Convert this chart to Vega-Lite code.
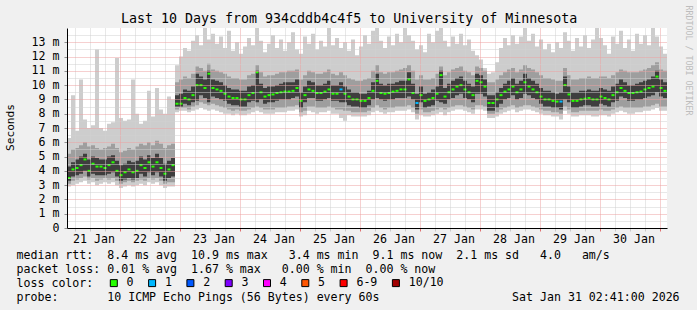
{
"$schema": "https://vega.github.io/schema/vega-lite/v6.json",
"width": 600, "height": 200,
"autosize": "none",
"padding": {"left": 67, "top": 28, "right": 30, "bottom": 82},
"background": "#f0f0f0",
"config": {"view": {"fill": "#ffffff", "stroke": null}, "font": "DejaVu Sans Mono"},
"title": {"text": "Last 10 Days from 934cddb4c4f5 to University of Minnesota", "anchor": "start", "frame": "group", "dx": 54, "dy": 24, "font": "DejaVu Sans Mono", "fontSize": 13.3, "fontWeight": "normal", "color": "#000000", "offset": 4},
"data": {"values": [
{"t":"2026-01-21T03:00:00Z","lo":2.9,"hi":6.3,"a":3.1,"b":5.2,"c":3.3,"d":4.3,"m":3.5,"l":"0"},
{"t":"2026-01-21T04:36:00Z","lo":3.0,"hi":9.3,"a":3.3,"b":5.5,"c":3.6,"d":4.6,"m":4.1,"l":"0"},
{"t":"2026-01-21T06:12:00Z","lo":3.1,"hi":6.8,"a":3.4,"b":5.6,"c":3.7,"d":4.8,"m":4.2,"l":"0"},
{"t":"2026-01-21T07:48:00Z","lo":3.2,"hi":10.4,"a":3.5,"b":5.8,"c":3.8,"d":5.0,"m":4.4,"l":"0"},
{"t":"2026-01-21T09:24:00Z","lo":3.3,"hi":7.6,"a":3.6,"b":6.0,"c":4.0,"d":5.2,"m":4.8,"l":"0"},
{"t":"2026-01-21T11:00:00Z","lo":3.1,"hi":7.0,"a":3.4,"b":5.7,"c":3.6,"d":4.8,"m":4.0,"l":"0"},
{"t":"2026-01-21T12:36:00Z","lo":3.2,"hi":7.2,"a":3.5,"b":5.8,"c":3.8,"d":5.0,"m":4.5,"l":"0"},
{"t":"2026-01-21T14:12:00Z","lo":3.0,"hi":12.5,"a":3.3,"b":5.6,"c":3.7,"d":4.9,"m":4.3,"l":"0"},
{"t":"2026-01-21T15:48:00Z","lo":3.1,"hi":7.0,"a":3.4,"b":5.5,"c":3.7,"d":4.8,"m":4.3,"l":"0"},
{"t":"2026-01-21T17:24:00Z","lo":3.2,"hi":6.8,"a":3.5,"b":5.6,"c":3.7,"d":4.8,"m":4.2,"l":"0"},
{"t":"2026-01-21T19:00:00Z","lo":3.1,"hi":7.3,"a":3.4,"b":5.7,"c":3.8,"d":5.0,"m":4.4,"l":"0"},
{"t":"2026-01-21T20:36:00Z","lo":3.2,"hi":7.4,"a":3.5,"b":5.9,"c":3.9,"d":5.1,"m":4.6,"l":"0"},
{"t":"2026-01-21T22:12:00Z","lo":3.0,"hi":11.9,"a":3.3,"b":5.6,"c":3.6,"d":4.7,"m":4.0,"l":"0"},
{"t":"2026-01-21T23:48:00Z","lo":2.8,"hi":7.7,"a":3.1,"b":5.3,"c":3.3,"d":4.4,"m":3.7,"l":"0"},
{"t":"2026-01-22T01:24:00Z","lo":2.9,"hi":7.5,"a":3.2,"b":5.4,"c":3.4,"d":4.5,"m":3.9,"l":"0"},
{"t":"2026-01-22T03:00:00Z","lo":3.0,"hi":7.6,"a":3.3,"b":5.6,"c":3.5,"d":4.7,"m":4.1,"l":"0"},
{"t":"2026-01-22T04:36:00Z","lo":2.9,"hi":10.4,"a":3.2,"b":5.5,"c":3.4,"d":4.6,"m":3.9,"l":"0"},
{"t":"2026-01-22T06:12:00Z","lo":3.0,"hi":8.0,"a":3.3,"b":5.7,"c":3.5,"d":4.7,"m":4.0,"l":"0"},
{"t":"2026-01-22T07:48:00Z","lo":3.1,"hi":7.3,"a":3.4,"b":5.9,"c":3.8,"d":5.0,"m":4.4,"l":"0"},
{"t":"2026-01-22T09:24:00Z","lo":3.0,"hi":7.5,"a":3.3,"b":5.8,"c":3.6,"d":4.8,"m":4.2,"l":"0"},
{"t":"2026-01-22T11:00:00Z","lo":3.2,"hi":9.6,"a":3.5,"b":6.0,"c":3.9,"d":5.1,"m":4.6,"l":"0"},
{"t":"2026-01-22T12:36:00Z","lo":3.1,"hi":7.8,"a":3.4,"b":5.8,"c":3.7,"d":4.9,"m":4.3,"l":"0"},
{"t":"2026-01-22T14:12:00Z","lo":3.2,"hi":9.8,"a":3.5,"b":6.1,"c":3.9,"d":5.2,"m":4.6,"l":"0"},
{"t":"2026-01-22T15:48:00Z","lo":3.0,"hi":8.3,"a":3.3,"b":5.9,"c":3.6,"d":4.9,"m":4.2,"l":"0"},
{"t":"2026-01-22T17:24:00Z","lo":2.8,"hi":8.0,"a":3.1,"b":5.6,"c":3.3,"d":4.5,"m":3.8,"l":"0"},
{"t":"2026-01-22T19:00:00Z","lo":2.9,"hi":9.2,"a":3.2,"b":5.8,"c":3.5,"d":4.7,"m":4.1,"l":"0"},
{"t":"2026-01-22T20:36:00Z","lo":2.9,"hi":9.0,"a":3.2,"b":5.9,"c":3.6,"d":4.9,"m":4.4,"l":"0"},
{"t":"2026-01-22T22:12:00Z","lo":8.1,"hi":11.4,"a":8.3,"b":10.2,"c":8.5,"d":9.3,"m":8.7,"l":"0"},
{"t":"2026-01-22T23:48:00Z","lo":8.2,"hi":12.0,"a":8.4,"b":10.4,"c":8.5,"d":9.4,"m":8.7,"l":"0"},
{"t":"2026-01-23T01:24:00Z","lo":8.2,"hi":12.6,"a":8.4,"b":10.6,"c":8.7,"d":9.7,"m":9.1,"l":"0"},
{"t":"2026-01-23T03:00:00Z","lo":8.1,"hi":12.4,"a":8.3,"b":10.5,"c":8.6,"d":9.6,"m":9.0,"l":"0"},
{"t":"2026-01-23T04:36:00Z","lo":8.2,"hi":13.1,"a":8.5,"b":10.8,"c":8.8,"d":9.9,"m":9.3,"l":"0"},
{"t":"2026-01-23T06:12:00Z","lo":8.3,"hi":13.5,"a":8.6,"b":11.3,"c":8.9,"d":10.8,"m":10.0,"l":"0"},
{"t":"2026-01-23T07:48:00Z","lo":8.4,"hi":12.8,"a":8.8,"b":11.2,"c":9.3,"d":10.6,"m":10.0,"l":"0"},
{"t":"2026-01-23T09:24:00Z","lo":8.3,"hi":14.0,"a":8.7,"b":11.0,"c":9.1,"d":10.4,"m":9.8,"l":"0"},
{"t":"2026-01-23T11:00:00Z","lo":8.2,"hi":13.2,"a":8.6,"b":11.5,"c":8.8,"d":11.0,"m":10.8,"l":"0"},
{"t":"2026-01-23T12:36:00Z","lo":8.3,"hi":13.6,"a":8.7,"b":11.1,"c":9.2,"d":10.4,"m":9.8,"l":"0"},
{"t":"2026-01-23T14:12:00Z","lo":8.2,"hi":12.9,"a":8.6,"b":11.0,"c":9.1,"d":10.3,"m":9.7,"l":"0"},
{"t":"2026-01-23T15:48:00Z","lo":8.1,"hi":13.4,"a":8.5,"b":10.9,"c":9.0,"d":10.2,"m":9.6,"l":"0"},
{"t":"2026-01-23T17:24:00Z","lo":8.0,"hi":12.6,"a":8.4,"b":10.8,"c":8.9,"d":10.0,"m":9.4,"l":"0"},
{"t":"2026-01-23T19:00:00Z","lo":8.0,"hi":13.8,"a":8.3,"b":10.6,"c":8.7,"d":9.8,"m":9.2,"l":"0"},
{"t":"2026-01-23T20:36:00Z","lo":7.9,"hi":12.4,"a":8.2,"b":10.5,"c":8.6,"d":9.7,"m":9.1,"l":"0"},
{"t":"2026-01-23T22:12:00Z","lo":8.0,"hi":13.0,"a":8.3,"b":10.5,"c":8.6,"d":9.7,"m":9.1,"l":"0"},
{"t":"2026-01-23T23:48:00Z","lo":7.9,"hi":12.2,"a":8.2,"b":10.4,"c":8.5,"d":9.6,"m":9.0,"l":"0"},
{"t":"2026-01-24T01:24:00Z","lo":7.9,"hi":12.7,"a":8.2,"b":10.4,"c":8.5,"d":9.6,"m":9.0,"l":"0"},
{"t":"2026-01-24T03:00:00Z","lo":8.0,"hi":13.3,"a":8.3,"b":10.7,"c":8.8,"d":9.9,"m":9.3,"l":"0"},
{"t":"2026-01-24T04:36:00Z","lo":8.1,"hi":12.8,"a":8.4,"b":10.8,"c":8.9,"d":10.0,"m":9.45,"l":"0"},
{"t":"2026-01-24T06:12:00Z","lo":8.2,"hi":14.0,"a":8.5,"b":11.4,"c":8.8,"d":11.0,"m":10.9,"l":"0"},
{"t":"2026-01-24T07:48:00Z","lo":8.1,"hi":13.1,"a":8.4,"b":10.9,"c":9.0,"d":10.1,"m":9.5,"l":"0"},
{"t":"2026-01-24T09:24:00Z","lo":8.0,"hi":12.3,"a":8.3,"b":10.6,"c":8.7,"d":9.8,"m":9.2,"l":"0"},
{"t":"2026-01-24T11:00:00Z","lo":8.0,"hi":12.9,"a":8.3,"b":10.7,"c":8.8,"d":9.9,"m":9.3,"l":"0"},
{"t":"2026-01-24T12:36:00Z","lo":8.0,"hi":13.5,"a":8.3,"b":10.7,"c":8.8,"d":9.9,"m":9.35,"l":"0"},
{"t":"2026-01-24T14:12:00Z","lo":8.1,"hi":12.6,"a":8.4,"b":10.8,"c":8.9,"d":10.0,"m":9.45,"l":"0"},
{"t":"2026-01-24T15:48:00Z","lo":8.1,"hi":13.2,"a":8.4,"b":10.9,"c":9.0,"d":10.1,"m":9.5,"l":"0"},
{"t":"2026-01-24T17:24:00Z","lo":8.1,"hi":12.4,"a":8.4,"b":10.9,"c":9.0,"d":10.2,"m":9.55,"l":"0"},
{"t":"2026-01-24T19:00:00Z","lo":8.2,"hi":13.0,"a":8.5,"b":11.0,"c":9.0,"d":10.2,"m":9.55,"l":"0"},
{"t":"2026-01-24T20:36:00Z","lo":8.2,"hi":13.7,"a":8.5,"b":11.0,"c":9.1,"d":10.2,"m":9.6,"l":"0"},
{"t":"2026-01-24T22:12:00Z","lo":8.3,"hi":12.5,"a":8.6,"b":11.1,"c":9.2,"d":10.4,"m":9.8,"l":"0"},
{"t":"2026-01-24T23:48:00Z","lo":7.8,"hi":12.2,"a":8.1,"b":10.4,"c":8.4,"d":9.5,"m":8.9,"l":"0"},
{"t":"2026-01-25T01:24:00Z","lo":7.9,"hi":13.4,"a":8.2,"b":10.7,"c":8.8,"d":9.9,"m":9.3,"l":"0"},
{"t":"2026-01-25T03:00:00Z","lo":8.2,"hi":12.9,"a":8.5,"b":11.0,"c":9.1,"d":10.3,"m":9.7,"l":"0"},
{"t":"2026-01-25T04:36:00Z","lo":8.1,"hi":13.6,"a":8.5,"b":10.9,"c":9.1,"d":10.2,"m":9.6,"l":"0"},
{"t":"2026-01-25T06:12:00Z","lo":8.0,"hi":12.5,"a":8.4,"b":10.8,"c":8.9,"d":10.0,"m":9.45,"l":"0"},
{"t":"2026-01-25T07:48:00Z","lo":8.1,"hi":13.1,"a":8.4,"b":10.8,"c":8.9,"d":10.0,"m":9.45,"l":"0"},
{"t":"2026-01-25T09:24:00Z","lo":8.1,"hi":12.7,"a":8.4,"b":10.9,"c":9.0,"d":10.1,"m":9.55,"l":"0"},
{"t":"2026-01-25T11:00:00Z","lo":8.2,"hi":14.0,"a":8.5,"b":11.1,"c":9.1,"d":10.3,"m":9.7,"l":"0"},
{"t":"2026-01-25T12:36:00Z","lo":8.0,"hi":12.8,"a":8.4,"b":10.8,"c":8.9,"d":10.0,"m":9.4,"l":"0"},
{"t":"2026-01-25T14:12:00Z","lo":8.0,"hi":13.3,"a":8.3,"b":10.7,"c":8.9,"d":10.0,"m":9.4,"l":"0"},
{"t":"2026-01-25T15:48:00Z","lo":7.7,"hi":12.6,"a":8.3,"b":10.9,"c":8.8,"d":10.2,"m":9.7,"l":"1"},
{"t":"2026-01-25T17:24:00Z","lo":7.5,"hi":13.0,"a":8.2,"b":10.7,"c":8.8,"d":9.9,"m":9.4,"l":"0"},
{"t":"2026-01-25T19:00:00Z","lo":7.9,"hi":12.4,"a":8.2,"b":10.5,"c":8.6,"d":9.7,"m":9.2,"l":"0"},
{"t":"2026-01-25T20:36:00Z","lo":7.8,"hi":13.2,"a":8.1,"b":10.4,"c":8.5,"d":9.5,"m":9.0,"l":"0"},
{"t":"2026-01-25T22:12:00Z","lo":7.8,"hi":12.1,"a":8.1,"b":10.3,"c":8.5,"d":9.5,"m":9.0,"l":"0"},
{"t":"2026-01-25T23:48:00Z","lo":7.8,"hi":12.7,"a":8.1,"b":10.3,"c":8.4,"d":9.4,"m":8.9,"l":"0"},
{"t":"2026-01-26T01:24:00Z","lo":7.8,"hi":13.5,"a":8.1,"b":10.4,"c":8.4,"d":9.4,"m":8.9,"l":"0"},
{"t":"2026-01-26T03:00:00Z","lo":7.9,"hi":12.9,"a":8.2,"b":10.5,"c":8.6,"d":9.6,"m":9.1,"l":"0"},
{"t":"2026-01-26T04:36:00Z","lo":8.1,"hi":13.8,"a":8.4,"b":11.0,"c":9.0,"d":10.2,"m":9.6,"l":"0"},
{"t":"2026-01-26T06:12:00Z","lo":8.2,"hi":14.0,"a":8.6,"b":11.4,"c":9.1,"d":10.8,"m":10.3,"l":"0"},
{"t":"2026-01-26T07:48:00Z","lo":8.1,"hi":13.1,"a":8.4,"b":10.9,"c":9.0,"d":10.1,"m":9.45,"l":"0"},
{"t":"2026-01-26T09:24:00Z","lo":8.0,"hi":12.6,"a":8.3,"b":10.8,"c":8.9,"d":10.0,"m":9.4,"l":"0"},
{"t":"2026-01-26T11:00:00Z","lo":8.1,"hi":13.4,"a":8.4,"b":10.9,"c":9.0,"d":10.1,"m":9.45,"l":"0"},
{"t":"2026-01-26T12:36:00Z","lo":8.1,"hi":12.8,"a":8.4,"b":10.9,"c":9.0,"d":10.1,"m":9.55,"l":"0"},
{"t":"2026-01-26T14:12:00Z","lo":8.2,"hi":13.6,"a":8.5,"b":11.0,"c":9.1,"d":10.2,"m":9.6,"l":"0"},
{"t":"2026-01-26T15:48:00Z","lo":8.2,"hi":13.0,"a":8.5,"b":11.1,"c":9.1,"d":10.3,"m":9.7,"l":"0"},
{"t":"2026-01-26T17:24:00Z","lo":8.2,"hi":14.0,"a":8.5,"b":11.2,"c":9.1,"d":10.3,"m":9.7,"l":"0"},
{"t":"2026-01-26T19:00:00Z","lo":8.3,"hi":13.5,"a":8.6,"b":11.4,"c":9.2,"d":10.9,"m":10.4,"l":"0"},
{"t":"2026-01-26T20:36:00Z","lo":8.1,"hi":13.1,"a":8.4,"b":11.0,"c":9.0,"d":10.1,"m":9.45,"l":"0"},
{"t":"2026-01-26T22:12:00Z","lo":7.6,"hi":12.5,"a":8.0,"b":10.4,"c":8.3,"d":9.4,"m":8.75,"l":"1"},
{"t":"2026-01-26T23:48:00Z","lo":7.9,"hi":12.8,"a":8.3,"b":10.7,"c":8.8,"d":9.9,"m":9.3,"l":"0"},
{"t":"2026-01-27T01:24:00Z","lo":7.8,"hi":12.3,"a":8.1,"b":10.4,"c":8.4,"d":9.4,"m":8.9,"l":"0"},
{"t":"2026-01-27T03:00:00Z","lo":7.8,"hi":13.6,"a":8.1,"b":10.4,"c":8.5,"d":9.5,"m":9.0,"l":"0"},
{"t":"2026-01-27T04:36:00Z","lo":7.9,"hi":13.0,"a":8.2,"b":10.5,"c":8.6,"d":9.7,"m":9.1,"l":"0"},
{"t":"2026-01-27T06:12:00Z","lo":8.0,"hi":13.8,"a":8.3,"b":10.8,"c":8.9,"d":9.9,"m":9.4,"l":"0"},
{"t":"2026-01-27T07:48:00Z","lo":8.1,"hi":14.0,"a":8.4,"b":11.3,"c":8.8,"d":11.0,"m":10.7,"l":"0"},
{"t":"2026-01-27T09:24:00Z","lo":7.9,"hi":13.1,"a":8.3,"b":10.7,"c":8.7,"d":9.8,"m":9.2,"l":"0"},
{"t":"2026-01-27T11:00:00Z","lo":8.1,"hi":12.7,"a":8.4,"b":10.9,"c":9.0,"d":10.1,"m":9.5,"l":"0"},
{"t":"2026-01-27T12:36:00Z","lo":8.2,"hi":13.4,"a":8.5,"b":11.1,"c":9.1,"d":10.3,"m":9.7,"l":"0"},
{"t":"2026-01-27T14:12:00Z","lo":8.3,"hi":12.9,"a":8.6,"b":11.2,"c":9.3,"d":10.5,"m":9.9,"l":"0"},
{"t":"2026-01-27T15:48:00Z","lo":8.3,"hi":13.6,"a":8.6,"b":11.3,"c":9.4,"d":10.6,"m":10.0,"l":"0"},
{"t":"2026-01-27T17:24:00Z","lo":8.2,"hi":12.8,"a":8.5,"b":11.0,"c":9.1,"d":10.3,"m":9.7,"l":"0"},
{"t":"2026-01-27T19:00:00Z","lo":8.1,"hi":13.2,"a":8.4,"b":10.9,"c":9.0,"d":10.1,"m":9.5,"l":"0"},
{"t":"2026-01-27T20:36:00Z","lo":8.0,"hi":12.4,"a":8.3,"b":10.7,"c":8.8,"d":9.9,"m":9.3,"l":"0"},
{"t":"2026-01-27T22:12:00Z","lo":8.3,"hi":12.1,"a":8.6,"b":11.3,"c":9.4,"d":10.8,"m":10.3,"l":"0"},
{"t":"2026-01-27T23:48:00Z","lo":8.3,"hi":11.8,"a":8.6,"b":11.2,"c":9.4,"d":10.7,"m":10.2,"l":"0"},
{"t":"2026-01-28T01:24:00Z","lo":8.2,"hi":11.2,"a":8.5,"b":11.0,"c":9.2,"d":10.4,"m":9.9,"l":"0"},
{"t":"2026-01-28T03:00:00Z","lo":7.7,"hi":10.8,"a":8.0,"b":10.2,"c":8.2,"d":9.3,"m":8.75,"l":"0"},
{"t":"2026-01-28T04:36:00Z","lo":7.7,"hi":10.9,"a":8.0,"b":10.2,"c":8.2,"d":9.3,"m":8.75,"l":"0"},
{"t":"2026-01-28T06:12:00Z","lo":7.8,"hi":11.6,"a":8.1,"b":10.4,"c":8.4,"d":9.5,"m":9.0,"l":"0"},
{"t":"2026-01-28T07:48:00Z","lo":8.0,"hi":12.6,"a":8.3,"b":10.7,"c":8.7,"d":9.8,"m":9.3,"l":"0"},
{"t":"2026-01-28T09:24:00Z","lo":8.1,"hi":13.3,"a":8.4,"b":10.9,"c":9.0,"d":10.1,"m":9.55,"l":"0"},
{"t":"2026-01-28T11:00:00Z","lo":8.2,"hi":12.8,"a":8.5,"b":11.1,"c":9.1,"d":10.3,"m":9.7,"l":"0"},
{"t":"2026-01-28T12:36:00Z","lo":8.3,"hi":13.5,"a":8.6,"b":11.2,"c":9.3,"d":10.5,"m":9.9,"l":"0"},
{"t":"2026-01-28T14:12:00Z","lo":8.1,"hi":12.9,"a":8.4,"b":10.9,"c":9.0,"d":10.1,"m":9.5,"l":"0"},
{"t":"2026-01-28T15:48:00Z","lo":8.2,"hi":13.4,"a":8.5,"b":11.1,"c":9.1,"d":10.3,"m":9.7,"l":"0"},
{"t":"2026-01-28T17:24:00Z","lo":8.3,"hi":14.0,"a":8.6,"b":11.4,"c":9.4,"d":10.8,"m":10.2,"l":"0"},
{"t":"2026-01-28T19:00:00Z","lo":8.3,"hi":13.1,"a":8.6,"b":11.2,"c":9.3,"d":10.5,"m":9.9,"l":"0"},
{"t":"2026-01-28T20:36:00Z","lo":8.2,"hi":13.6,"a":8.5,"b":11.1,"c":9.1,"d":10.3,"m":9.7,"l":"0"},
{"t":"2026-01-28T22:12:00Z","lo":8.1,"hi":12.7,"a":8.4,"b":10.9,"c":9.0,"d":10.1,"m":9.5,"l":"0"},
{"t":"2026-01-28T23:48:00Z","lo":8.0,"hi":13.2,"a":8.3,"b":10.7,"c":8.7,"d":9.8,"m":9.2,"l":"0"},
{"t":"2026-01-29T01:24:00Z","lo":7.9,"hi":12.5,"a":8.2,"b":10.5,"c":8.5,"d":9.6,"m":9.0,"l":"0"},
{"t":"2026-01-29T03:00:00Z","lo":7.9,"hi":12.9,"a":8.2,"b":10.5,"c":8.5,"d":9.6,"m":9.0,"l":"0"},
{"t":"2026-01-29T04:36:00Z","lo":7.8,"hi":12.3,"a":8.1,"b":10.4,"c":8.4,"d":9.5,"m":8.9,"l":"0"},
{"t":"2026-01-29T06:12:00Z","lo":7.8,"hi":13.0,"a":8.1,"b":10.3,"c":8.4,"d":9.4,"m":8.85,"l":"0"},
{"t":"2026-01-29T07:48:00Z","lo":7.6,"hi":12.6,"a":8.0,"b":10.3,"c":8.3,"d":9.5,"m":8.85,"l":"1"},
{"t":"2026-01-29T09:24:00Z","lo":8.2,"hi":13.7,"a":8.5,"b":11.2,"c":9.0,"d":10.6,"m":10.0,"l":"0"},
{"t":"2026-01-29T11:00:00Z","lo":8.0,"hi":13.1,"a":8.3,"b":10.7,"c":8.8,"d":9.9,"m":9.35,"l":"0"},
{"t":"2026-01-29T12:36:00Z","lo":7.8,"hi":12.4,"a":8.1,"b":10.4,"c":8.4,"d":9.5,"m":8.9,"l":"0"},
{"t":"2026-01-29T14:12:00Z","lo":7.8,"hi":13.3,"a":8.1,"b":10.4,"c":8.4,"d":9.5,"m":8.9,"l":"0"},
{"t":"2026-01-29T15:48:00Z","lo":7.9,"hi":12.7,"a":8.2,"b":10.5,"c":8.5,"d":9.6,"m":9.0,"l":"0"},
{"t":"2026-01-29T17:24:00Z","lo":7.9,"hi":13.5,"a":8.2,"b":10.5,"c":8.6,"d":9.6,"m":9.05,"l":"0"},
{"t":"2026-01-29T19:00:00Z","lo":7.9,"hi":12.6,"a":8.2,"b":10.6,"c":8.6,"d":9.7,"m":9.1,"l":"0"},
{"t":"2026-01-29T20:36:00Z","lo":7.8,"hi":13.2,"a":8.2,"b":10.5,"c":8.5,"d":9.6,"m":9.0,"l":"0"},
{"t":"2026-01-29T22:12:00Z","lo":7.8,"hi":14.0,"a":8.2,"b":10.5,"c":8.5,"d":9.6,"m":9.0,"l":"0"},
{"t":"2026-01-29T23:48:00Z","lo":7.9,"hi":13.3,"a":8.3,"b":10.6,"c":8.7,"d":9.8,"m":9.2,"l":"0"},
{"t":"2026-01-30T01:24:00Z","lo":7.9,"hi":12.8,"a":8.2,"b":10.6,"c":8.6,"d":9.7,"m":9.1,"l":"0"},
{"t":"2026-01-30T03:00:00Z","lo":7.8,"hi":12.2,"a":8.2,"b":10.5,"c":8.5,"d":9.6,"m":9.0,"l":"0"},
{"t":"2026-01-30T04:36:00Z","lo":8.0,"hi":13.4,"a":8.3,"b":10.7,"c":8.8,"d":9.9,"m":9.3,"l":"0"},
{"t":"2026-01-30T06:12:00Z","lo":8.1,"hi":12.9,"a":8.4,"b":10.9,"c":8.9,"d":10.1,"m":9.5,"l":"0"},
{"t":"2026-01-30T07:48:00Z","lo":8.2,"hi":13.8,"a":8.5,"b":11.1,"c":9.2,"d":10.4,"m":9.8,"l":"0"},
{"t":"2026-01-30T09:24:00Z","lo":8.1,"hi":12.6,"a":8.4,"b":11.0,"c":9.1,"d":10.2,"m":9.6,"l":"0"},
{"t":"2026-01-30T11:00:00Z","lo":8.0,"hi":13.2,"a":8.4,"b":10.9,"c":8.9,"d":10.0,"m":9.45,"l":"0"},
{"t":"2026-01-30T12:36:00Z","lo":8.0,"hi":12.4,"a":8.4,"b":10.9,"c":8.9,"d":10.0,"m":9.45,"l":"0"},
{"t":"2026-01-30T14:12:00Z","lo":8.1,"hi":13.6,"a":8.4,"b":10.9,"c":9.0,"d":10.1,"m":9.5,"l":"0"},
{"t":"2026-01-30T15:48:00Z","lo":8.1,"hi":12.9,"a":8.4,"b":11.0,"c":9.0,"d":10.2,"m":9.55,"l":"0"},
{"t":"2026-01-30T17:24:00Z","lo":8.2,"hi":13.5,"a":8.5,"b":11.1,"c":9.1,"d":10.3,"m":9.7,"l":"0"},
{"t":"2026-01-30T19:00:00Z","lo":8.2,"hi":12.8,"a":8.5,"b":11.2,"c":9.2,"d":10.4,"m":9.8,"l":"0"},
{"t":"2026-01-30T20:36:00Z","lo":8.3,"hi":14.0,"a":8.6,"b":11.4,"c":9.3,"d":10.6,"m":9.9,"l":"0"},
{"t":"2026-01-30T22:12:00Z","lo":8.4,"hi":13.4,"a":8.7,"b":11.6,"c":9.5,"d":11.0,"m":10.6,"l":"0"},
{"t":"2026-01-30T23:48:00Z","lo":8.2,"hi":12.7,"a":8.5,"b":11.1,"c":9.2,"d":10.4,"m":9.8,"l":"0"},
{"t":"2026-01-31T01:24:00Z","lo":8.2,"hi":12.2,"a":8.5,"b":11.0,"c":9.1,"d":10.2,"m":9.6,"l":"0"},
{"t":"2026-01-31T03:00:00Z","lo":8.2,"hi":12.2,"a":8.5,"b":11.0,"c":9.1,"d":10.2,"l":"0"}
]},
"encoding": {
"x": {"field": "t", "type": "temporal",
 "scale": {"type": "utc", "domain": [1768964400000, 1769828400000]},
 "axis": {
  "tickCount": 40,
  "labelExpr": "utchours(datum.value) == 12 ? utcFormat(datum.value, '%d %b') : ''",
  "labelOffset": 4, "labelOverlap": false, "labelFlush": false, "labelPadding": 2,
  "labelFont": "DejaVu Sans Mono", "labelFontSize": 11.6, "labelColor": "#000000",
  "grid": true,
  "gridColor": {"condition": {"test": "utchours(datum.value) == 0", "value": "#eca0a0"}, "value": "#d0d0d0"},
  "gridDash": [1, 1],
  "tickColor": {"condition": {"test": "utchours(datum.value) == 0", "value": "#e07070"}, "value": "#c8c8c8"},
  "tickSize": 3,
  "domainColor": "#000000",
  "zindex": 1,
  "title": ["median rtt:\u00a0\u00a08.4 ms avg\u00a0\u00a010.9 ms max\u00a0\u00a0\u00a03.4 ms min\u00a0\u00a09.1 ms now\u00a0\u00a02.1 ms sd\u00a0\u00a0\u00a04.0\u00a0\u00a0\u00a0am/s", "packet loss: 0.01 % avg\u00a0\u00a01.67 % max\u00a0\u00a0\u00a00.00 % min\u00a0\u00a00.00 % now", "loss color:", "probe:\u00a0\u00a0\u00a0\u00a0\u00a0\u00a0\u00a010 ICMP Echo Pings (56 Bytes) every 60s\u00a0\u00a0\u00a0\u00a0\u00a0\u00a0\u00a0\u00a0\u00a0\u00a0\u00a0\u00a0\u00a0\u00a0\u00a0\u00a0\u00a0\u00a0\u00a0Sat Jan 31 02:41:00 2026"],
  "titleX": -51, "titleY": 21, "titleAlign": "left", "titleAnchor": "start", "titleBaseline": "top",
  "titleFont": "DejaVu Sans Mono", "titleFontSize": 11.6, "titleFontWeight": "normal", "titleLineHeight": 14, "titleColor": "#000000"
 }}
},
"resolve": {"axis": {"y": "independent"}},
"layer": [
{
"mark": {"type": "area", "interpolate": "step-after", "color": "#cdcdcd", "clip": true},
"encoding": {
"y": {"field": "lo", "type": "quantitative",
 "scale": {"domain": [0, 14], "nice": false, "zero": true},
 "axis": {
  "values": [0,0.5,1,1.5,2,2.5,3,3.5,4,4.5,5,5.5,6,6.5,7,7.5,8,8.5,9,9.5,10,10.5,11,11.5,12,12.5,13,13.5],
  "labelExpr": "datum.value % 1 == 0 ? (datum.value == 0 ? '0' : datum.value + ' m') : ''",
  "labelFont": "DejaVu Sans Mono", "labelFontSize": 11.6, "labelColor": "#000000", "labelPadding": 5,
  "grid": true,
  "gridColor": {"condition": {"test": "datum.value % 1 == 0", "value": "#eca0a0"}, "value": "#d0d0d0"},
  "gridDash": [1, 1],
  "tickColor": {"condition": {"test": "datum.value % 1 == 0", "value": "#909090"}, "value": "transparent"},
  "tickSize": 3,
  "domainColor": "#000000",
  "zindex": 1,
  "title": "Seconds", "titleX": -57, "titleY": 99, "titleAngle": 270, "titleAlign": "center", "titleBaseline": "middle",
  "titleFont": "DejaVu Sans Mono", "titleFontSize": 11.2, "titleFontWeight": "normal", "titleColor": "#000000"
 }},
"y2": {"field": "hi"}
}
},
{
"mark": {"type": "area", "interpolate": "step-after", "color": "#9e9e9e", "clip": true},
"encoding": {
"y": {"field": "a", "type": "quantitative", "scale": {"domain": [0, 14], "nice": false}, "axis": null},
"y2": {"field": "b"}
}
},
{
"mark": {"type": "area", "interpolate": "step-after", "color": "#3e3e3e", "clip": true},
"encoding": {
"y": {"field": "c", "type": "quantitative", "scale": {"domain": [0, 14], "nice": false}, "axis": null},
"y2": {"field": "d"}
}
},
{
"mark": {"type": "tick", "orient": "horizontal", "size": 3, "thickness": 2, "xOffset": 2, "opacity": 1, "clip": true},
"encoding": {
"y": {"field": "m", "type": "quantitative", "scale": {"domain": [0, 14], "nice": false},
 "axis": {"orient": "right", "title": "RRDTOOL / TOBI OETIKER", "labels": false, "ticks": false, "domain": false, "grid": false,
  "titleAngle": 90, "titleX": 20, "titleY": 32, "titleAlign": "center", "titleBaseline": "middle",
  "titleFont": "DejaVu Sans Mono", "titleFontSize": 8.3, "titleFontWeight": "normal", "titleColor": "#bdbdbd"}},
"color": {"field": "l", "type": "nominal",
 "scale": {"domain": ["0", "1", "2", "3", "4", "5", "6-9", "10/10"], "range": ["#26ff00", "#00b8ff", "#0059ff", "#7e00ff", "#ff00ff", "#ff5500", "#ff0000", "#a10000"]},
 "legend": {"title": null, "orient": "none", "legendX": 41, "legendY": 249, "direction": "horizontal", "columns": 8,
  "symbolType": "square", "symbolSize": 49, "symbolStrokeColor": "#000000", "symbolStrokeWidth": 1, "symbolOpacity": 1,
  "labelFont": "DejaVu Sans Mono", "labelFontSize": 11.6, "labelColor": "#000000", "labelOffset": 7, "columnPadding": 12.3, "padding": 0}}
}
}
]
}
